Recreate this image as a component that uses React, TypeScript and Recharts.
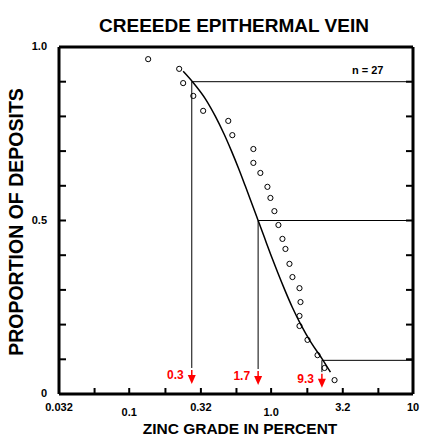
import React from "react";
import { ComposedChart, XAxis, YAxis, Scatter, Line, ReferenceLine } from "recharts";

// grade axis (log), quarter-decade ticks
const xTicks = [0.032, 0.057, 0.1, 0.18, 0.32, 0.57, 1.0, 1.8, 3.2, 5.7, 10];
const xTickLabels = ["0.032", "", "0.1", "", "0.32", "", "1.0", "", "3.2", "", "10"];
const yTicks = [0, 0.1, 0.2, 0.3, 0.4, 0.5, 0.6, 0.7, 0.8, 0.9, 1.0];
const yTickLabels = ["0", "", "", "", "", "0.5", "", "", "", "", "1.0"];

// observed deposits (n = 27)
const depositGrade = [
  0.136, 0.225, 0.24, 0.283, 0.332, 0.499, 0.533, 0.75, 0.75, 0.84, 0.942, 0.989, 1.055,
  1.126, 1.202, 1.262, 1.347, 1.414, 1.585, 1.611, 1.585, 1.585, 1.805, 2.124, 2.38, 2.8,
];
const depositProportion = [
  0.965, 0.937, 0.896, 0.859, 0.816, 0.787, 0.746, 0.706, 0.666, 0.637, 0.597, 0.565, 0.527,
  0.487, 0.447, 0.418, 0.375, 0.337, 0.305, 0.265, 0.225, 0.196, 0.156, 0.112, 0.075, 0.04,
];

// fitted lognormal curve
const curveGrade = [
  0.24, 0.279, 0.345, 0.405, 0.465, 0.526, 0.59, 0.657, 0.73, 0.81, 0.899, 0.998, 1.113,
  1.248, 1.41, 1.62, 1.9, 2.3, 2.62,
];
const curveProportion = [
  0.93, 0.9, 0.85, 0.8, 0.75, 0.7, 0.65, 0.6, 0.55, 0.5, 0.45, 0.4, 0.35,
  0.3, 0.25, 0.2, 0.15, 0.1, 0.063,
];

// 90th / 50th / 10th percentile markers
const cutoffLabels = ["0.3", "1.7", "9.3"];
const cutoffGrade = [0.276, 0.81, 2.28];
const cutoffProportion = [0.9, 0.5, 0.097];
const cutoffStemTop = [0.075, 0.072, 0.063];
const cutoffArrowTip = [0.029, 0.026, 0.018];

const deposits = depositGrade.map((x, i) => ({ x, y: depositProportion[i] }));
const curve = curveGrade.map((x, i) => ({ x, y: curveProportion[i] }));
const arrows = cutoffGrade.map((x, i) => ({ x, y: cutoffArrowTip[i], label: cutoffLabels[i] }));

const FONT = "'Liberation Sans', Arial, Helvetica, sans-serif";
const RED = "#ff0000";

const BottomTick = (p: any) => {
  const i = xTicks.indexOf(p.payload.value);
  const label = xTickLabels[i];
  const low = label === "0.1" || label === "1.0";
  return (
    <g>
      <line x1={p.x} x2={p.x} y1={p.y} y2={p.y - 6} stroke="#000" strokeWidth={2} />
      {label && (
        <text x={p.x} y={p.y + (low ? 22 : 17)} textAnchor="middle" fontSize={11} fontWeight="bold" fontFamily={FONT} fill="#000">
          {label}
        </text>
      )}
    </g>
  );
};

const TopTick = (p: any) => (
  <line x1={p.x} x2={p.x} y1={p.y} y2={p.y + 6} stroke="#000" strokeWidth={2} />
);

const LeftTick = (p: any) => {
  const i = yTicks.indexOf(p.payload.value);
  const label = yTickLabels[i];
  return (
    <g>
      <line x1={p.x} x2={p.x + 7} y1={p.y} y2={p.y} stroke="#000" strokeWidth={2} />
      {label && (
        <text x={p.x - 12} y={p.y + 3} textAnchor="end" fontSize={11} fontWeight="bold" fontFamily={FONT} fill="#000">
          {label}
        </text>
      )}
    </g>
  );
};

const RightTick = (p: any) => (
  <line x1={p.x} x2={p.x - 7} y1={p.y} y2={p.y} stroke="#000" strokeWidth={2} />
);

const Ring = (p: any) => (
  <circle cx={p.cx} cy={p.cy} r={2.6} fill="none" stroke="#000" strokeWidth={1} />
);

const Arrow = (p: any) => {
  const { cx, cy, payload } = p;
  return (
    <g>
      <line x1={cx} x2={cx} y1={cy - 14} y2={cy - 8} stroke={RED} strokeWidth={1.5} />
      <polygon points={`${cx - 4},${cy - 9} ${cx + 4},${cy - 9} ${cx},${cy}`} fill={RED} />
      <text x={cx - 8} y={cy - 5} textAnchor="end" fontSize={12} fontWeight="bold" fontFamily={FONT} fill={RED}>
        {payload.label}
      </text>
    </g>
  );
};

const frame = { stroke: "#000", strokeWidth: 3 };

export default function App() {
  return (
    <div style={{ position: "absolute", left: 0, top: 0, width: 432, height: 446, background: "#fff" }}>
      <ComposedChart width={432} height={446} margin={{ top: 46, right: 18, bottom: 51, left: 58 }}>
        <XAxis
          dataKey="x"
          type="number"
          scale="log"
          domain={[0.032, 10]}
          allowDataOverflow
          ticks={xTicks}
          interval={0}
          height={1}
          tickSize={0}
          tickMargin={0}
          tickLine={false}
          axisLine={frame}
          tick={BottomTick}
        />
        <XAxis
          xAxisId="top"
          orientation="top"
          type="number"
          scale="log"
          domain={[0.032, 10]}
          allowDataOverflow
          ticks={xTicks}
          interval={0}
          height={1}
          tickSize={0}
          tickMargin={0}
          tickLine={false}
          axisLine={frame}
          tick={TopTick}
        />
        <YAxis
          dataKey="y"
          type="number"
          domain={[0, 1]}
          allowDataOverflow
          ticks={yTicks}
          interval={0}
          width={1}
          tickSize={0}
          tickMargin={0}
          tickLine={false}
          axisLine={frame}
          tick={LeftTick}
        />
        <YAxis
          yAxisId="right"
          orientation="right"
          type="number"
          domain={[0, 1]}
          allowDataOverflow
          ticks={yTicks}
          interval={0}
          width={1}
          tickSize={0}
          tickMargin={0}
          tickLine={false}
          axisLine={frame}
          tick={RightTick}
        />
        {cutoffGrade.map((g, i) => (
          <ReferenceLine
            key={"h" + i}
            segment={[{ x: g, y: cutoffProportion[i] }, { x: 10, y: cutoffProportion[i] }]}
            stroke="#000"
            strokeWidth={1}
          />
        ))}
        {cutoffGrade.map((g, i) => (
          <ReferenceLine
            key={"v" + i}
            segment={[{ x: g, y: cutoffProportion[i] }, { x: g, y: cutoffStemTop[i] }]}
            stroke="#000"
            strokeWidth={1}
          />
        ))}
        <Line
          data={curve}
          dataKey="y"
          type="monotone"
          stroke="#000"
          strokeWidth={1.5}
          dot={false}
          activeDot={false}
          isAnimationActive={false}
        />
        <Scatter data={deposits} shape={Ring} isAnimationActive={false} />
        <Scatter data={arrows} shape={Arrow} isAnimationActive={false} />
      </ComposedChart>
      <svg width={432} height={446} style={{ position: "absolute", left: 0, top: 0, pointerEvents: "none" }}>
        <text x={234} y={32} textAnchor="middle" fontSize={19} fontWeight="bold" fontFamily={FONT} fill="#000">
          CREEEDE EPITHERMAL VEIN
        </text>
        <text
          x={23}
          y={222}
          transform="rotate(-90 23 222)"
          textAnchor="middle"
          fontSize={19.5}
          fontWeight="bold"
          fontFamily={FONT}
          fill="#000"
        >
          PROPORTION OF DEPOSITS
        </text>
        <text x={240} y={434} textAnchor="middle" fontSize={15.5} fontFamily={FONT} fill="#000" fontWeight="bold">
          ZINC GRADE IN PERCENT
        </text>
        <text x={352} y={74} fontSize={11} fontWeight="bold" fontFamily={FONT} fill="#000">
          n = 27
        </text>
      </svg>
    </div>
  );
}
